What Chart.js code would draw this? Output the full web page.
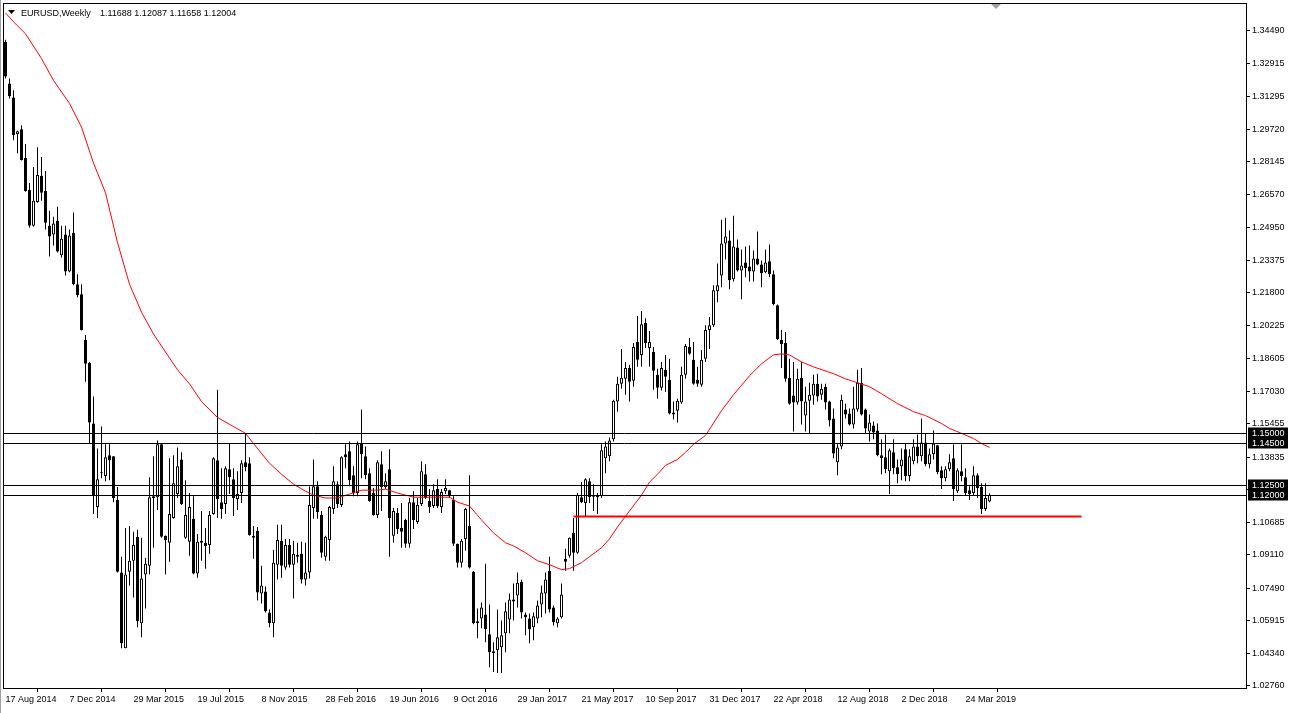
<!DOCTYPE html>
<html><head><meta charset="utf-8">
<script src="https://cdn.jsdelivr.net/npm/chart.js@4.4.0/dist/chart.umd.min.js"></script>
<style>html,body{margin:0;padding:0;background:#fff;overflow:hidden}</style>
</head><body>
<canvas id="c" width="1294" height="713" style="display:block"></canvas>
<script>
// ---------- data ----------
const symbolTitle = 'EURUSD,Weekly';
const lastQuote = ['1.11688', '1.12087', '1.11658', '1.12004'];

const openP = [1.3396,1.3193,1.3126,1.2948,1.2972,1.2832,1.2678,1.2505,1.2620,1.2746,
1.2673,1.2505,1.2462,1.2529,1.2361,1.2462,1.2283,1.2471,1.2221,1.2173,
1.1951,1.1840,1.1547,1.1142,1.1311,1.1292,1.1393,1.1388,1.1176,1.0825,
1.0459,1.0829,1.0882,1.0998,1.0579,1.0815,1.0858,1.1186,1.1190,1.1446,
1.1003,1.0969,1.1089,1.1205,1.1373,1.0993,1.0974,1.1085,1.0820,1.0979,
1.0969,1.0959,1.1109,1.1369,1.1166,1.1157,1.1325,1.1277,1.1181,1.1210,
1.1359,1.1354,1.1003,1.1027,1.0723,1.0733,1.0632,1.0579,1.0863,1.0979,
1.0849,1.0959,1.0863,1.0911,1.0916,1.0791,1.0825,1.1137,1.1243,1.1104,
1.0902,1.0983,1.1133,1.1253,1.1152,1.1398,1.1412,1.1296,1.1210,1.1450,
1.1388,1.1306,1.1210,1.1104,1.1349,1.1239,1.1325,1.1003,1.1113,1.1041,
1.1080,1.0964,1.1166,1.1070,1.1157,1.1301,1.1171,1.1147,1.1229,1.1142,
1.1219,1.1224,1.1176,1.0964,1.0873,1.0988,1.1051,1.0829,1.0589,1.0603,
1.0622,1.0526,1.0435,1.0449,1.0463,1.0531,1.0598,1.0695,1.0714,1.0781,
1.0622,1.0603,1.0560,1.0603,1.0670,1.0723,1.0834,1.0656,1.0579,1.0608,
1.0892,1.0906,1.1017,1.0921,1.1190,1.1162,1.1267,1.1195,1.1200,1.1195,
1.1378,1.1388,1.1470,1.1653,1.1739,1.1763,1.1816,1.1754,1.1942,1.1879,
1.2033,1.1913,1.1893,1.1783,1.1720,1.1807,1.1759,1.1600,1.1609,1.1648,
1.1783,1.1917,1.1855,1.1759,1.1734,1.1860,1.1999,1.2023,1.2187,1.2264,
1.2418,1.2433,1.2245,1.2399,1.2288,1.2327,1.2307,1.2283,1.2346,1.2317,
1.2279,1.2332,1.2269,1.2120,1.1951,1.1937,1.1768,1.1682,1.1648,1.1768,
1.1585,1.1657,1.1682,1.1739,1.1686,1.1725,1.1653,1.1571,1.1359,1.1436,
1.1614,1.1595,1.1542,1.1614,1.1744,1.1614,1.1508,1.1537,1.1513,1.1393,
1.1383,1.1316,1.1407,1.1335,1.1340,1.1422,1.1292,1.1364,1.1436,1.1388,
1.1455,1.1349,1.1398,1.1441,1.1320,1.1282,1.1325,1.1378,1.1219,1.1316,
1.1287,1.1224,1.1210,1.1296,1.1239,1.1133,1.11688];

const highP = [1.3405,1.3218,1.3160,1.2965,1.2991,1.2900,1.2712,1.2789,1.2885,1.2837,
1.2770,1.2577,1.2548,1.2596,1.2505,1.2505,1.2486,1.2568,1.2269,1.2221,
1.1975,1.1845,1.1677,1.1426,1.1532,1.1446,1.1446,1.1390,1.1239,1.0902,
1.1041,1.1051,1.1022,1.1032,1.0993,1.0897,1.1287,1.1388,1.1465,1.1450,
1.1005,1.1378,1.1393,1.1431,1.1407,1.1272,1.1210,1.1195,1.1012,1.1123,
1.1041,1.1123,1.1383,1.1710,1.1330,1.1340,1.1450,1.1330,1.1316,1.1369,
1.1499,1.1383,1.1051,1.1046,1.0858,1.0757,1.0646,1.0935,1.1056,1.1056,
1.0988,1.0988,1.0979,1.0969,1.0974,1.0969,1.1243,1.1373,1.1267,1.1123,
1.1003,1.1147,1.1340,1.1267,1.1388,1.1446,1.1460,1.1340,1.1460,1.1614,
1.1436,1.1330,1.1234,1.1369,1.1412,1.1306,1.1422,1.1137,1.1137,1.1162,
1.1085,1.1186,1.1219,1.1186,1.1364,1.1349,1.1229,1.1253,1.1277,1.1229,
1.1277,1.1226,1.1195,1.0966,1.0988,1.1137,1.1296,1.0832,1.0651,1.0680,
1.0868,1.0670,1.0488,1.0646,1.0593,1.0680,1.0723,1.0772,1.0825,1.0791,
1.0632,1.0627,1.0632,1.0690,1.0762,1.0825,1.0902,1.0666,1.0608,1.0772,
1.0940,1.0995,1.1089,1.1210,1.1263,1.1282,1.1282,1.1253,1.1210,1.1446,
1.1460,1.1479,1.1662,1.1773,1.1908,1.1845,1.1831,1.1937,1.2067,1.2091,
1.2057,1.1995,1.1917,1.1812,1.1845,1.1879,1.1860,1.1653,1.1667,1.1821,
1.1932,1.1961,1.1942,1.1821,1.1903,1.2023,1.2062,1.2216,1.2322,1.2534,
1.2543,1.2481,1.2553,1.2438,1.2389,1.2404,1.2409,1.2385,1.2476,1.2336,
1.2389,1.2413,1.2288,1.2123,1.1999,1.1990,1.1860,1.1845,1.1812,1.1845,
1.1725,1.1744,1.1783,1.1788,1.1739,1.1739,1.1657,1.1619,1.1446,1.1686,
1.1643,1.1619,1.1725,1.1807,1.1816,1.1619,1.1590,1.1556,1.1547,1.1470,
1.1494,1.1426,1.1470,1.1373,1.1426,1.1450,1.1422,1.1470,1.1494,1.1571,
1.1499,1.1426,1.1513,1.1443,1.1340,1.1340,1.1398,1.1446,1.1330,1.1446,
1.1330,1.1243,1.1340,1.1306,1.1258,1.1258,1.12087];

const lowP = [1.3218,1.3121,1.2919,1.2856,1.2820,1.2669,1.2495,1.2500,1.2616,1.2625,
1.2486,1.2356,1.2409,1.2375,1.2351,1.2264,1.2279,1.2216,1.2158,1.1997,
1.1749,1.1450,1.1109,1.1089,1.1282,1.1267,1.1272,1.1166,1.0825,1.0459,
1.0458,1.0762,1.0704,1.0560,1.0512,1.0651,1.0815,1.0945,1.1128,1.0993,
1.0815,1.0877,1.1085,1.1186,1.1152,1.0988,1.0906,1.0817,1.0800,1.0882,
1.0844,1.0916,1.1105,1.1089,1.1085,1.1109,1.1205,1.1099,1.1128,1.1162,
1.1316,1.1003,1.0892,1.0690,1.0675,1.0632,1.0560,1.0512,1.0791,1.0800,
1.0839,1.0849,1.0699,1.0873,1.0772,1.0762,1.0796,1.1085,1.1085,1.0897,
1.0882,1.0882,1.1109,1.1137,1.1142,1.1330,1.1243,1.1195,1.1195,1.1282,
1.1277,1.1168,1.1100,1.1089,1.1123,1.1229,1.0902,1.0969,1.1012,1.0945,
1.0945,1.0945,1.1036,1.1060,1.1147,1.1181,1.1113,1.1137,1.1137,1.1113,
1.1205,1.1186,1.0954,1.0849,1.0849,1.0930,1.0844,1.0575,1.0507,1.0555,
1.0488,1.0367,1.0343,1.0338,1.0338,1.0439,1.0531,1.0593,1.0656,1.0603,
1.0521,1.0483,1.0497,1.0579,1.0608,1.0627,1.0632,1.0569,1.0560,1.0603,
1.0834,1.0897,1.0834,1.0916,1.1162,1.1099,1.1162,1.1123,1.1109,1.1186,
1.1306,1.1364,1.1460,1.1604,1.1715,1.1686,1.1653,1.1725,1.1821,1.1821,
1.1913,1.1821,1.1710,1.1667,1.1706,1.1701,1.1590,1.1566,1.1552,1.1643,
1.1763,1.1880,1.1734,1.1725,1.1725,1.1845,1.1908,1.2014,1.2134,1.2206,
1.2341,1.2197,1.2235,1.2283,1.2149,1.2255,1.2235,1.2235,1.2313,1.2206,
1.2274,1.2255,1.2120,1.1951,1.1816,1.1749,1.1638,1.1508,1.1638,1.1542,
1.1508,1.1499,1.1638,1.1653,1.1662,1.1614,1.1532,1.1378,1.1296,1.1422,
1.1571,1.1537,1.1523,1.1604,1.1586,1.1499,1.1460,1.1470,1.1388,1.1301,
1.1306,1.1205,1.1301,1.1258,1.1272,1.1267,1.1267,1.1349,1.1354,1.1364,
1.1340,1.1330,1.1373,1.1301,1.1229,1.1267,1.1316,1.1171,1.1210,1.1267,
1.1200,1.1176,1.1200,1.1186,1.1109,1.1123,1.11658];

const closeP = [1.3227,1.3131,1.2943,1.2962,1.2823,1.2673,1.2505,1.2625,1.2750,1.2664,
1.2519,1.2452,1.2515,1.2380,1.2442,1.2283,1.2457,1.2221,1.2168,1.1999,
1.1836,1.1552,1.1195,1.1277,1.1306,1.1383,1.1369,1.1186,1.0829,1.0483,
1.0815,1.0882,1.0959,1.0589,1.0796,1.0868,1.1190,1.1195,1.1446,1.0998,
1.0983,1.1109,1.1258,1.1340,1.1157,1.1104,1.1142,1.0820,1.0974,1.0969,
1.0954,1.1104,1.1378,1.1181,1.1133,1.1330,1.1287,1.1186,1.1205,1.1354,
1.1335,1.1007,1.0993,1.0728,1.0762,1.0637,1.0579,1.0873,1.0983,1.0858,
1.0959,1.0863,1.0916,1.0902,1.0791,1.0825,1.1152,1.1243,1.1118,1.0921,
1.0998,1.1142,1.1267,1.1157,1.1383,1.1383,1.1272,1.1210,1.1446,1.1398,
1.1296,1.1171,1.1104,1.1359,1.1239,1.1267,1.1089,1.1123,1.1036,1.1022,
1.0964,1.1166,1.1080,1.1152,1.1316,1.1186,1.1142,1.1224,1.1147,1.1215,
1.1234,1.1195,1.0964,1.0873,1.0979,1.1133,1.0849,1.0579,1.0579,1.0656,
1.0550,1.0439,1.0444,1.0512,1.0521,1.0637,1.0695,1.0685,1.0776,1.0632,
1.0608,1.0550,1.0613,1.0666,1.0728,1.0791,1.0646,1.0584,1.0603,1.0719,
1.0877,1.0993,1.0921,1.1200,1.1166,1.1277,1.1190,1.1190,1.1190,1.1417,
1.1436,1.1465,1.1657,1.1739,1.1768,1.1816,1.1749,1.1917,1.1855,1.2028,
1.1937,1.1942,1.1802,1.1720,1.1816,1.1773,1.1595,1.1590,1.1657,1.1783,
1.1922,1.1884,1.1739,1.1739,1.1855,1.1999,1.2023,1.2192,1.2216,1.2418,
1.2452,1.2240,1.2404,1.2288,1.2312,1.2298,1.2283,1.2346,1.2317,1.2274,
1.2327,1.2269,1.2125,1.1956,1.1932,1.1763,1.1643,1.1648,1.1763,1.1653,
1.1653,1.1686,1.1739,1.1677,1.1715,1.1648,1.1561,1.1402,1.1431,1.1662,
1.1590,1.1542,1.1619,1.1744,1.1590,1.1523,1.1552,1.1503,1.1393,1.1378,
1.1325,1.1417,1.1330,1.1301,1.1373,1.1292,1.1388,1.1436,1.1388,1.1455,
1.1349,1.1398,1.1450,1.1311,1.1282,1.1325,1.1359,1.1229,1.1320,1.1292,
1.1210,1.1205,1.1296,1.1234,1.1133,1.1186,1.12004];

// moving average (red curve), read at selected weeks
const maWeek  = [0,2,5,9,12,16,19,22,25,28,31,34,37,40,43,46,49,53,57,60,62,66,69,72,75,77,80,83,86,89,93,95,98,102,111,113,116,119,122,125,127,130,133,136,139,141,144,146,149,151,153,156,159,161,163,165,168,170,172,175,179,182,186,189,192,194,196,199,202,207,210,213,216,219,223,227,230,234,236,239,242,244,246];
const maValue = [1.3535,1.3492,1.3434,1.3314,1.3208,1.3097,1.2982,1.2808,1.2664,1.2423,1.2221,1.2086,1.1980,1.1893,1.1807,1.1739,1.1653,1.1576,1.1532,1.1499,1.1450,1.1354,1.1301,1.1253,1.1219,1.1200,1.1186,1.1186,1.1205,1.1224,1.1224,1.1229,1.1210,1.1190,1.1190,1.1166,1.1147,1.1080,1.1017,1.0969,1.0954,1.0921,1.0882,1.0863,1.0839,1.0844,1.0873,1.0902,1.0945,1.0988,1.1046,1.1123,1.1200,1.1263,1.1301,1.1344,1.1373,1.1407,1.1446,1.1489,1.1609,1.1686,1.1778,1.1836,1.1879,1.1884,1.1879,1.1845,1.1821,1.1788,1.1763,1.1744,1.1725,1.1691,1.1643,1.1604,1.1585,1.1547,1.1523,1.1499,1.1474,1.1450,1.1431];

const priceTicks = [1.34490,1.32915,1.31295,1.29720,1.28145,1.26570,1.24950,1.23375,1.21800,1.20225,1.18605,1.17030,1.15455,1.13835,1.12260,1.10685,1.09110,1.07490,1.05915,1.04340,1.02760];
const dateTicks = ['17 Aug 2014','7 Dec 2014','29 Mar 2015','19 Jul 2015','8 Nov 2015','28 Feb 2016','19 Jun 2016','9 Oct 2016','29 Jan 2017','21 May 2017','10 Sep 2017','31 Dec 2017','22 Apr 2018','12 Aug 2018','2 Dec 2018','24 Mar 2019'];
const weeksPerDateTick = 16;

const levelLines = [1.15000, 1.14500, 1.12500, 1.12000];
const supportWeeks = [142, 269];
const supportLevel = [1.1097, 1.1097];

// ---------- chart ----------
const FONT = 'Liberation Sans, Arial, sans-serif';
Chart.defaults.font.family = FONT;
Chart.defaults.font.size = 9;
Chart.defaults.color = '#000';

const PLOT = {left: 3.5, top: 3.5, right: 1246, bottom: 688};
const pxPerWeek = 4;
const xMin = -0.5;
const xMax = xMin + (PLOT.right - PLOT.left) / pxPerWeek;
const yPerPx = 0.0004815;
const yMax = 1.15 + (431.7 - PLOT.top) * yPerPx;
const yMin = 1.15 - (PLOT.bottom - 431.7) * yPerPx;

const wickData = lowP.map((l, i) => ({x: i, y: [l, highP[i]]}));
const bodyData = openP.map((o, i) => ({x: i, y: [Math.min(o, closeP[i]), Math.max(o, closeP[i])]}));
const bodyFill = openP.map((o, i) => closeP[i] >= o ? '#ffffff' : '#000000');
const maData = maWeek.map((w, k) => ({x: w, y: maValue[k]}));
const supportData = supportWeeks.map((w, k) => ({x: w, y: supportLevel[k]}));

const overlay = {
  id: 'overlay',
  afterDatasetsDraw(chart) {
    const {ctx, chartArea: a, scales: {y}} = chart;
    ctx.save();
    ctx.strokeStyle = '#000';
    ctx.lineWidth = 1;
    levelLines.forEach(v => {
      const py = Math.round(y.getPixelForValue(v)) + 0.5;
      ctx.beginPath(); ctx.moveTo(a.left - 0.5, py); ctx.lineTo(a.right, py); ctx.stroke();
    });
    ctx.restore();
  },
  afterDraw(chart) {
    const {ctx, chartArea: a, scales: {y}} = chart;
    ctx.save();
    ctx.strokeStyle = '#000'; ctx.lineWidth = 1;
    ctx.strokeRect(3.5, 3.5, a.right - 3, a.bottom - 3);
    ctx.strokeStyle = '#a0a0a0';
    ctx.beginPath(); ctx.moveTo(0.5, 0); ctx.lineTo(0.5, 713); ctx.stroke();
    ctx.font = '9px ' + FONT;
    ctx.textBaseline = 'middle';
    levelLines.forEach(v => {
      const py = y.getPixelForValue(v);
      ctx.fillStyle = '#000';
      ctx.fillRect(1248, Math.round(py) - 5.5, 40, 11);
      ctx.fillStyle = '#fff';
      ctx.fillText(v.toFixed(5), 1252, py + 0.5);
    });
    ctx.fillStyle = '#000';
    ctx.beginPath(); ctx.moveTo(8, 10); ctx.lineTo(15, 10); ctx.lineTo(11.5, 14); ctx.closePath(); ctx.fill();
    ctx.textBaseline = 'alphabetic';
    ctx.fillText(symbolTitle, 21, 16);
    ctx.fillText(lastQuote.join(' '), 100, 16);
    ctx.fillStyle = '#a0a0a0';
    ctx.beginPath(); ctx.moveTo(991, 4); ctx.lineTo(1001, 4); ctx.lineTo(996, 9); ctx.closePath(); ctx.fill();
    ctx.restore();
  }
};

new Chart(document.getElementById('c'), {
  type: 'bar',
  data: {
    datasets: [
      {type: 'line', data: maData, borderColor: '#ff0000', borderWidth: 1, pointRadius: 0, tension: 0, order: 0},
      {type: 'line', data: supportData, borderColor: '#ff0000', borderWidth: 2, pointRadius: 0, tension: 0, order: 0},
      {data: bodyData, backgroundColor: bodyFill, borderColor: '#000', borderWidth: 1, borderSkipped: false,
       barThickness: 3, grouped: false, minBarLength: 1, inflateAmount: 0, order: 1},
      {data: wickData, backgroundColor: '#000', borderWidth: 0, barThickness: 1, grouped: false, inflateAmount: 0, order: 2}
    ]
  },
  options: {
    responsive: false, animation: false, devicePixelRatio: 1,
    layout: {padding: {left: PLOT.left, top: PLOT.top, right: 0, bottom: 0}},
    plugins: {legend: {display: false}, tooltip: {enabled: false}},
    scales: {
      x: {
        type: 'linear', min: xMin, max: xMax, offset: false,
        afterBuildTicks: s => { s.ticks = dateTicks.map((_, k) => ({value: k * weeksPerDateTick})); },
        afterFit: s => { s.height = 713 - PLOT.bottom; },
        ticks: {autoSkip: false, maxRotation: 0, align: 'start', padding: 2,
                callback: v => dateTicks[Math.round(v / weeksPerDateTick)]},
        grid: {drawOnChartArea: false, drawTicks: true, tickLength: 4, color: '#000'},
        border: {display: true, color: '#000'}
      },
      y: {
        type: 'linear', position: 'right', min: yMin, max: yMax,
        afterBuildTicks: s => { s.ticks = priceTicks.map(v => ({value: v})); },
        afterFit: s => { s.width = 1294 - PLOT.right; },
        ticks: {padding: 2, callback: v => v.toFixed(5)},
        grid: {drawOnChartArea: false, drawTicks: true, tickLength: 4, color: '#000'},
        border: {display: true, color: '#000'}
      }
    }
  },
  plugins: [overlay]
});
</script>
</body></html>
